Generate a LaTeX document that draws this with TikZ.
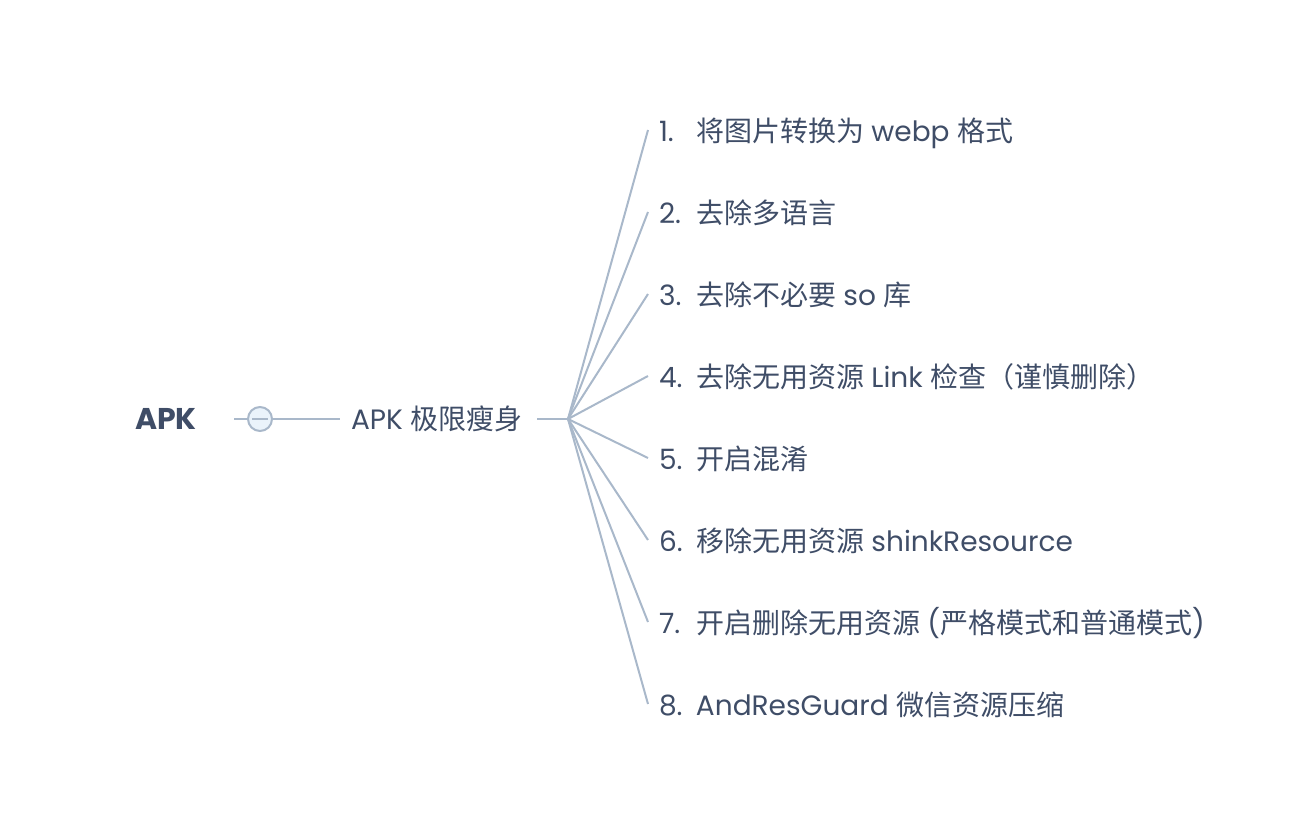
\documentclass[tikz,border=0pt]{standalone}
\usepackage{fontspec}
\setmainfont{Poppins}
\newfontfamily\cjk{Noto Sans CJK SC}
\usetikzlibrary{positioning}
\definecolor{txtcol}{HTML}{3F4D67}
\definecolor{linecol}{HTML}{A9B8CA}
\definecolor{knobcol}{HTML}{EAF3FB}
\newcommand{\itm}[2]{\makebox[18.5pt][l]{#1}#2}

\begin{document}
\begin{tikzpicture}[x=0.5pt, y=-0.5pt, line width=1pt, draw=linecol,
    every node/.style = {text=txtcol, inner sep=0pt, font=\fontsize{14}{16}\selectfont},
    root/.style = {font=\fontsize{15}{17}\selectfont\bfseries},
    knob/.style = {circle, draw=linecol, fill=knobcol, minimum size=12pt},
    topic/.style = {anchor=west},
    leaf/.style = {anchor=base west}]
    \useasboundingbox (0,0) rectangle (1306,838);

    % Nodes
    \node[root] (apk) at (166,419) {APK};
    \coordinate (apkout) at (234,419);
    \node[knob] (toggle) at (260,419) {};
    \node[topic] (slim) at (350,419) {APK {\cjk 极限瘦身}};
    \coordinate (fork) at (568,419);

    % Edges
    \draw[linecol] (apkout) -- (toggle);
    \draw[linecol] ([xshift=-4pt]toggle.center) -- ([xshift=4pt]toggle.center);
    \draw[linecol] (toggle) -- ([xshift=-5pt]slim.west);
    \draw[linecol] ([xshift=7pt]slim.east) -- (fork);

    % Leaves
    \foreach \i/\y/\t in {
        1/132/{{\cjk 将图片转换为} webp {\cjk 格式}},
        2/214/{{\cjk 去除多语言}},
        3/296/{{\cjk 去除不必要} so {\cjk 库}},
        4/378/{{\cjk 去除无用资源} Link {\cjk 检查（谨慎删除）}},
        5/460/{{\cjk 开启混淆}},
        6/542/{{\cjk 移除无用资源} shinkResource},
        7/624/{{\cjk 开启删除无用资源} ({\cjk 严格模式和普通模式})},
        8/706/{AndResGuard {\cjk 微信资源压缩}}} {
      \node[leaf] (leaf\i) at (658,\y+10) {\itm{\i.}{\t}};
      \draw[linecol] (fork) -- ([xshift=-5pt, yshift=6pt]leaf\i.base west);
    }

\end{tikzpicture}
\end{document}
